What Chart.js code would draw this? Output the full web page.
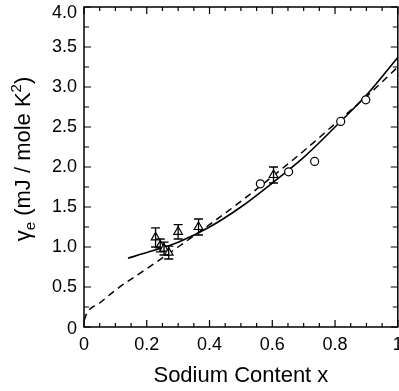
<!DOCTYPE html>
<html>
<head>
<meta charset="utf-8">
<script src="https://cdn.jsdelivr.net/npm/chart.js@4"></script>
<style>
  html, body { margin: 0; padding: 0; background: #fff; overflow: hidden; }
  #wrap { width: 399px; height: 391px; overflow: hidden; }
</style>
</head>
<body>
<!-- canvas is a few px wider than the window so the frame reaches the right edge like the original -->
<div id="wrap"><canvas id="gammaChart" width="404" height="391"></canvas></div>
<script>
// Data
const circleX = [0.562, 0.652, 0.735, 0.818, 0.898];
const circleY = [1.79, 1.94, 2.07, 2.57, 2.84];

const triX = [0.228, 0.243, 0.255, 0.27, 0.30, 0.365, 0.604];
const triY = [1.12, 1.02, 0.98, 0.93, 1.19, 1.25, 1.90];
const triErr = [0.12, 0.08, 0.08, 0.08, 0.09, 0.10, 0.10];

// solid fit curve
const solidX = [0.14, 0.2, 0.3, 0.4, 0.5, 0.6, 0.7, 0.8, 0.9, 1.0];
const solidY = [0.86, 0.93, 1.06, 1.25, 1.50, 1.80, 2.12, 2.50, 2.90, 3.37];

// dashed fit curve
const dashX = [0.0, 0.01, 0.05, 0.1, 0.2, 0.3, 0.4, 0.5, 0.6, 0.7, 0.8, 0.9, 1.0];
const dashY = [0.08, 0.18, 0.30, 0.46, 0.73, 1.00, 1.28, 1.57, 1.88, 2.20, 2.54, 2.88, 3.25];

const xTicks = [0, 0.2, 0.4, 0.6, 0.8, 1];
const yTicks = [0, 0.5, 1, 1.5, 2, 2.5, 3, 3.5, 4];

const FONT = "'Liberation Sans', Arial, sans-serif";

const toPoints = (xs, ys) => xs.map((x, i) => ({ x: x, y: ys[i] }));
const yLabel = v => v === 0 ? "0" : v.toFixed(1);

// drop the space Chart.js keeps for overhanging tick labels
function noOverhang(s) {
  s.paddingTop = 0;
  s.paddingBottom = 0;
  s.paddingLeft = 0;
  s.paddingRight = 0;
}

// Frame, inward ticks, error bars, y labels and axis titles
const decorPlugin = {
  id: "decor",
  afterDatasetsDraw(chart) {
    const ctx = chart.ctx;
    const xs = chart.scales.x;
    const ys = chart.scales.y;
    const a = chart.chartArea;
    ctx.save();
    ctx.strokeStyle = "#000";

    // error bars for the triangles
    ctx.lineWidth = 1.3;
    triX.forEach((x, i) => {
      const px = xs.getPixelForValue(x);
      const top = ys.getPixelForValue(triY[i] + triErr[i]);
      const bot = ys.getPixelForValue(triY[i] - triErr[i]);
      ctx.beginPath();
      ctx.moveTo(px, top); ctx.lineTo(px, bot);
      ctx.moveTo(px - 4.5, top); ctx.lineTo(px + 4.5, top);
      ctx.moveTo(px - 4.5, bot); ctx.lineTo(px + 4.5, bot);
      ctx.stroke();
    });

    // frame
    ctx.lineWidth = 1.5;
    ctx.strokeRect(a.left, a.top, a.right - a.left, a.bottom - a.top);

    // inward ticks on all four sides
    ctx.lineWidth = 1.2;
    ctx.beginPath();
    for (let k = 0; k <= 20; k++) {
      const v = k * 0.05;
      const px = xs.getPixelForValue(v);
      const len = k % 4 === 0 ? 7 : 4;
      ctx.moveTo(px, a.bottom); ctx.lineTo(px, a.bottom - len);
      ctx.moveTo(px, a.top); ctx.lineTo(px, a.top + len);
    }
    for (let k = 0; k <= 16; k++) {
      const v = k * 0.25;
      const py = ys.getPixelForValue(v);
      const len = k % 2 === 0 ? 7 : 5;
      ctx.moveTo(a.left, py); ctx.lineTo(a.left + len, py);
      ctx.moveTo(a.right, py); ctx.lineTo(a.right - len, py);
    }
    ctx.stroke();

    // y tick labels (end labels nudged inside the canvas like the original)
    ctx.fillStyle = "#000";
    ctx.font = "18px " + FONT;
    ctx.textAlign = "right";
    ctx.textBaseline = "middle";
    yTicks.forEach(v => {
      let py = ys.getPixelForValue(v);
      if (v === 4) py += 6;
      if (v === 0) py += 2;
      ctx.fillText(yLabel(v), a.left - 7, py);
    });

    // x title
    ctx.font = "22px " + FONT;
    ctx.textAlign = "center";
    ctx.fillText("Sodium Content x", (a.left + a.right) / 2, 376);

    // y title with subscript and superscript
    ctx.translate(22, 159);
    ctx.rotate(-Math.PI / 2);
    const big = "22px " + FONT;
    const small = "15px " + FONT;
    const parts = [
      { t: "\u03b3", f: big, dy: 0 },
      { t: "e", f: small, dy: 5 },
      { t: " (mJ / mole K", f: big, dy: 0 },
      { t: "2", f: small, dy: -9 },
      { t: ")", f: big, dy: 0 }
    ];
    let total = 0;
    parts.forEach(p => { ctx.font = p.f; p.w = ctx.measureText(p.t).width; total += p.w; });
    let cx = -total / 2;
    ctx.textAlign = "left";
    ctx.textBaseline = "alphabetic";
    parts.forEach(p => {
      ctx.font = p.f;
      ctx.fillText(p.t, cx, 8 + p.dy);
      cx += p.w;
    });
    ctx.restore();
  }
};

const ctx = document.getElementById("gammaChart").getContext("2d");
new Chart(ctx, {
  type: "scatter",
  data: {
    datasets: [
      {
        label: "solid fit",
        data: toPoints(solidX, solidY),
        showLine: true,
        borderColor: "#000",
        borderWidth: 1.6,
        pointRadius: 0,
        cubicInterpolationMode: "monotone",
        order: 4
      },
      {
        label: "dashed fit",
        data: toPoints(dashX, dashY),
        showLine: true,
        borderColor: "#000",
        borderWidth: 1.5,
        borderDash: [7, 5],
        pointRadius: 0,
        cubicInterpolationMode: "monotone",
        order: 3
      },
      {
        label: "circles",
        data: toPoints(circleX, circleY),
        pointStyle: "circle",
        pointRadius: 4,
        backgroundColor: "#fff",
        borderColor: "#000",
        borderWidth: 1.2,
        order: 2
      },
      {
        label: "triangles",
        data: toPoints(triX, triY),
        pointStyle: "triangle",
        pointRadius: 5,
        backgroundColor: "#fff",
        borderColor: "#000",
        borderWidth: 1.2,
        order: 1
      }
    ]
  },
  options: {
    responsive: false,
    animation: false,
    events: [],
    layout: { padding: { top: 7, right: 2, left: 0, bottom: 0 } },
    plugins: {
      legend: { display: false },
      tooltip: { enabled: false }
    },
    scales: {
      x: {
        type: "linear",
        min: 0,
        max: 1,
        afterFit: s => { s.height = 64; noOverhang(s); },
        afterBuildTicks: s => { s.ticks = xTicks.map(v => ({ value: v })); },
        grid: { display: false, drawTicks: false },
        border: { display: false },
        ticks: {
          padding: 7,
          color: "#000",
          font: { family: FONT, size: 18 },
          callback: v => (v === 0 || v === 1) ? String(v) : v.toFixed(1)
        }
      },
      y: {
        type: "linear",
        min: 0,
        max: 4,
        afterFit: s => { s.width = 84; noOverhang(s); },
        afterBuildTicks: s => { s.ticks = yTicks.map(v => ({ value: v })); },
        grid: { display: false, drawTicks: false },
        border: { display: false },
        ticks: { display: false }
      }
    }
  },
  plugins: [decorPlugin]
});
</script>
</body>
</html>
